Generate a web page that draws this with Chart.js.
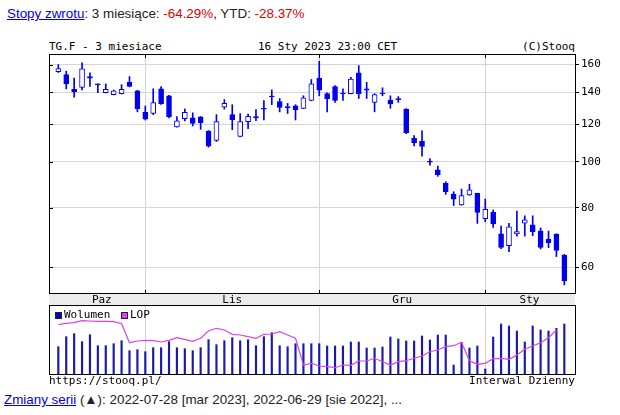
<!DOCTYPE html>
<html>
<head>
<meta charset="utf-8">
<script src="https://cdn.jsdelivr.net/npm/chart.js@4.4.1/dist/chart.umd.min.js"></script>
<style>
  body { margin: 0; background: #fff; width: 620px; height: 415px; position: relative; overflow: hidden; }
  .t { position: absolute; white-space: pre; }
  .mono { font: 11px "DejaVu Sans Mono", monospace; color: #000; line-height: 13px; }
  .sans { font: 13.4px "Liberation Sans", Arial, sans-serif; color: #222; line-height: 16px; }
  a { color: #0000ee; text-decoration: underline; }
  .red { color: #dd0000; }
  canvas { position: absolute; left: 0; }
  .sq { position: absolute; width: 5px; height: 5px; border: 1px solid #222; }
</style>
</head>
<body>
<div class="t sans" style="left:7px; top:6px;"><a>Stopy zwrotu</a>: 3 miesiące: <span class="red">-64.29%</span>, YTD: <span class="red">-28.37%</span></div>
<div class="t mono" style="left:49px; top:40px;">TG.F - 3 miesiace</div>
<div class="t mono" style="left:258px; top:40px;">16 Sty 2023 23:00 CET</div>
<div class="t mono" style="right:45px; top:40px;">(C)Stooq</div>

<canvas id="price" width="620" height="305" style="top:0"></canvas>
<canvas id="vol" width="620" height="70" style="top:305px"></canvas>

<div class="sq" style="left:55px; top:312px; background:#0000cc;"></div>
<div class="t mono" style="left:64px; top:308px;">Wolumen</div>
<div class="sq" style="left:121px; top:312px; background:#e040f0;"></div>
<div class="t mono" style="left:130px; top:308px;">LOP</div>

<div class="t mono" style="left:49px; top:374px;">https://stooq.pl/</div>
<div class="t mono" style="right:45px; top:374px;">Interwal Dzienny</div>
<div class="t sans" style="left:4px; top:392px;"><a>Zmiany serii</a> (▲): 2022-07-28 [mar 2023], 2022-06-29 [sie 2022], ...</div>

<script>
// TG.F daily candles, 17 Oct 2022 - 16 Jan 2023
const opens  = [154.6,152.4,141.9,143.3,151.0,145.3,139.7,138.4,139.0,146.8,141.0,127.0,126.3,142.3,137.5,118.4,123.2,123.7,124.2,116.0,110.8,130.2,125.6,113.0,121.4,124.4,129.5,137.3,133.8,130.3,131.0,129.5,134.5,149.9,139.0,143.9,139.2,139.0,153.7,142.3,133.3,139.2,134.8,135.3,129.0,112.0,110.4,100.2,96.2,90.1,85.5,81.2,85.2,85.8,75.9,78.3,70.6,66.6,70.5,74.3,73.7,71.6,68.8,70.5,63.7];
const highs  = [160.0,155.0,149.9,161.3,153.7,145.7,145.7,141.5,145.2,151.0,141.3,130.9,142.3,143.9,137.9,124.4,129.1,126.7,124.4,116.3,125.6,135.1,131.8,126.2,126.0,128.7,134.5,141.6,135.8,132.6,131.8,137.6,148.9,162.6,139.5,144.6,142.3,150.4,159.2,146.8,139.0,143.0,137.6,137.0,129.3,113.5,116.2,101.5,97.9,90.8,86.5,87.6,89.7,85.9,83.5,79.2,73.3,74.2,78.8,77.0,77.0,72.6,71.5,70.6,63.9];
const lows   = [154.0,142.3,136.6,141.6,143.9,139.6,139.5,138.2,138.8,143.7,127.3,122.4,125.6,132.0,123.6,118.2,121.9,118.9,117.0,107.3,110.3,129.0,116.8,112.8,117.4,122.0,122.4,131.8,127.3,126.3,122.4,129.3,134.3,137.6,127.2,133.3,134.5,138.8,135.8,135.8,127.3,137.6,129.5,133.3,114.5,108.0,102.7,98.4,93.2,85.4,80.9,81.0,85.0,74.2,74.8,72.8,65.7,64.7,69.8,69.8,69.9,65.6,66.0,63.2,55.1];
const closes = [157.0,145.7,140.2,156.7,149.8,145.0,141.9,141.0,141.9,143.9,129.2,122.9,133.2,132.4,124.4,121.9,127.0,120.4,120.8,107.8,121.4,132.6,122.6,121.4,124.6,123.6,128.9,136.8,130.1,129.9,128.6,136.3,145.7,141.3,135.7,134.5,138.8,149.2,139.0,141.3,138.4,138.8,132.2,135.0,115.1,109.5,107.7,99.8,93.9,86.5,83.4,84.9,87.3,78.3,79.4,74.0,66.1,73.0,71.3,75.5,71.3,66.1,67.6,65.1,56.2];
const volumes = [546,746,806,646,786,566,566,606,666,466,486,446,526,526,646,526,506,466,526,686,586,666,726,666,686,566,746,826,566,546,606,606,606,606,560,560,560,640,640,520,520,540,740,700,660,660,760,680,780,780,180,634,520,560,100,740,1000,960,860,640,960,880,860,914,1000];
const lop = [4930,5070,5130,5330,5300,5270,5270,5230,5030,3130,3300,3370,3330,3200,3370,3630,3470,3270,3570,4330,4570,4400,3970,3900,3730,3570,3970,4000,4230,3900,3570,900,1070,800,730,630,900,870,1300,1300,1570,1230,900,1230,1330,1570,1800,2230,2400,2730,2830,3170,1330,970,1070,1530,1570,1470,1900,2470,2800,3130,3630,4400,null];

const priceTicks = [60, 80, 100, 120, 140, 160];
const monthStarts = [11, 33, 54];
const monthMids = [5.5, 22, 43.5, 59.6];
const monthLabels = ['Paz', 'Lis', 'Gru', 'Sty'];

const BLUE = '#0000ee';
const GRID = '#d4d4d4';
const MONO = { family: 'DejaVu Sans Mono', size: 11 };
const X_MIN = -1.18, X_MAX = 65.35;
const idx = closes.map((_, i) => i);

// black frame, inner ticks and the month band
const frame = {
  id: 'frame',
  beforeDraw(chart, args, opts) {
    if (!opts.band) return;
    const a = chart.chartArea, c = chart.ctx;
    c.save();
    c.fillStyle = '#ececec';
    c.fillRect(a.left, a.bottom, a.right - a.left, 12);
    c.restore();
  },
  afterDraw(chart, args, opts) {
    const a = chart.chartArea, c = chart.ctx;
    c.save();
    c.strokeStyle = '#000';
    c.lineWidth = 1;
    c.strokeRect(a.left + 0.5, a.top + 0.5, a.right - a.left, a.bottom - a.top);
    if (opts.band) {
      c.beginPath();
      const x = chart.scales.x;
      monthStarts.forEach(m => {
        const px = Math.round(x.getPixelForValue(m)) + 0.5;
        c.moveTo(px, a.top); c.lineTo(px, a.top + 4);
        c.moveTo(px, a.bottom - 3); c.lineTo(px, a.bottom);
      });
      const y = chart.scales.y;
      priceTicks.forEach(v => {
        const py = Math.round(y.getPixelForValue(v)) + 0.5;
        c.moveTo(a.left, py); c.lineTo(a.left + 4, py);
      });
      c.stroke();
    }
    c.restore();
  }
};

new Chart(document.getElementById('price'), {
  type: 'bar',
  data: {
    datasets: [
      {
        label: 'body',
        data: idx.map(i => ({ x: i, y: [opens[i], closes[i]] })),
        backgroundColor: idx.map(i => closes[i] < opens[i] ? BLUE : '#fff'),
        borderColor: BLUE,
        borderWidth: 1,
        borderSkipped: false,
        barThickness: 5,
        minBarLength: 1,
        grouped: false,
        order: 0
      },
      {
        label: 'wick',
        data: idx.map(i => ({ x: i, y: [lows[i], highs[i]] })),
        backgroundColor: BLUE,
        barThickness: 1,
        grouped: false,
        order: 1
      }
    ]
  },
  options: {
    responsive: false,
    animation: false,
    layout: { padding: { left: 49, top: 54, right: 0, bottom: 0 } },
    plugins: { legend: { display: false }, tooltip: { enabled: false }, frame: { band: true } },
    scales: {
      x: {
        type: 'linear', min: X_MIN, max: X_MAX, offset: false,
        afterBuildTicks: s => { s.ticks = [...monthStarts, ...monthMids].sort((a, b) => a - b).map(v => ({ value: v })); },
        afterFit: s => { s.height = 12; },
        ticks: {
          autoSkip: false, maxRotation: 0, padding: 1, font: MONO, color: '#000',
          callback: v => { const k = monthMids.indexOf(v); return k >= 0 ? monthLabels[k] : ''; }
        },
        grid: { offset: false, tickLength: 0, color: c => c.tick && monthStarts.includes(c.tick.value) ? GRID : 'rgba(0,0,0,0)' },
        border: { display: false }
      },
      y: {
        type: 'logarithmic', position: 'right', min: 53.0, max: 168.4,
        afterBuildTicks: s => { s.ticks = priceTicks.map(v => ({ value: v })); },
        afterFit: s => { s.width = 45; },
        ticks: { padding: 2, font: MONO, color: '#000', callback: v => String(v) },
        grid: { color: GRID, tickColor: '#000', tickLength: 4 },
        border: { color: '#000' }
      }
    }
  },
  plugins: [frame]
});

new Chart(document.getElementById('vol'), {
  type: 'bar',
  data: {
    datasets: [
      {
        type: 'line', label: 'LOP',
        data: idx.map(i => ({ x: i, y: lop[i] })),
        yAxisID: 'yl', borderColor: '#e040f0', borderWidth: 1.2, pointRadius: 0, order: 0
      },
      {
        type: 'bar', label: 'Wolumen',
        data: idx.map(i => ({ x: i, y: volumes[i] })),
        yAxisID: 'yv', backgroundColor: '#1a1aa8', barThickness: 1.5, grouped: false, order: 1
      }
    ]
  },
  options: {
    responsive: false,
    animation: false,
    layout: { padding: { left: 49, right: 45, top: 0, bottom: 1 } },
    plugins: { legend: { display: false }, tooltip: { enabled: false }, frame: { band: false } },
    scales: {
      x: {
        type: 'linear', min: X_MIN, max: X_MAX, offset: false,
        afterBuildTicks: s => { s.ticks = monthStarts.map(v => ({ value: v })); },
        afterFit: s => { s.height = 0; },
        ticks: { display: false },
        grid: { color: GRID, tickLength: 0, offset: false },
        border: { display: false }
      },
      yv: { display: false, min: 0, max: 1380 },
      yl: { display: false, min: 0, max: 6900 }
    }
  },
  plugins: [frame]
});
</script>
</body>
</html>
